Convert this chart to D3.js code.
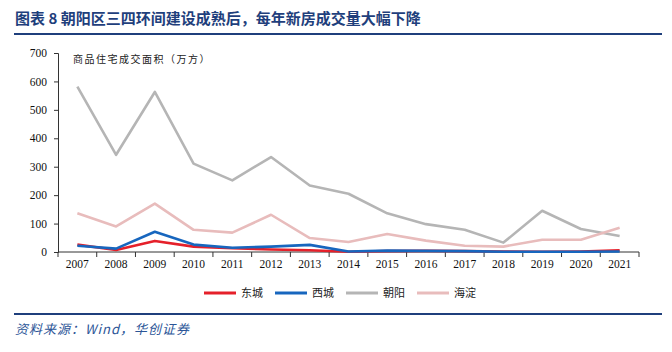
<!DOCTYPE html>
<html>
<head>
<meta charset="utf-8">
<script src="https://cdn.jsdelivr.net/npm/d3@7"></script>
<style>
  body { margin: 0; background: #fff; }
  svg { display: block; }
</style>
</head>
<body>
<div id="chart"></div>
<script>
// data (万方)
const years = ["2007","2008","2009","2010","2011","2012","2013","2014","2015","2016","2017","2018","2019","2020","2021"];
const dongcheng = [26, 7, 39, 19, 13, 9, 6, 1, 3, 4, 3, 2, 1, 2, 6];
const xicheng = [22, 12, 71, 26, 15, 19, 25, 2, 5, 4, 3, 1, 1, 1, 2];
const chaoyang = [582, 342, 563, 311, 252, 334, 234, 205, 136, 98, 78, 33, 145, 81, 56];
const haidian = [136, 90, 170, 78, 68, 131, 49, 35, 63, 40, 22, 19, 43, 43, 85];
const yTicks = [0, 100, 200, 300, 400, 500, 600, 700];

const seriesList = [
    {name: "东城", values: dongcheng, color: "#e5202a"},
    {name: "西城", values: xicheng, color: "#1766be"},
    {name: "朝阳", values: chaoyang, color: "#b5b5b5"},
    {name: "海淀", values: haidian, color: "#e8bcbc"}
];
// draw order: grey & pink underneath
const drawOrder = [2, 3, 0, 1];

const W = 672, H = 352;
const margin = {top: 53, right: 33, bottom: 100, left: 58};
const width = W - margin.left - margin.right;
const height = H - margin.top - margin.bottom;

const svg = d3.select("#chart").append("svg")
    .attr("width", W)
    .attr("height", H);

const serif = "'Liberation Serif', 'Times New Roman', serif";
const cjk = "'Noto Sans CJK SC', sans-serif";
const navy = "#1f3f7c";

// title + rules
svg.append("text")
    .attr("x", 15).attr("y", 24)
    .attr("fill", navy)
    .attr("font-family", cjk)
    .attr("font-weight", "bold")
    .attr("font-size", "15px")
    .text("图表 8  朝阳区三四环间建设成熟后，每年新房成交量大幅下降");

svg.append("line")
    .attr("x1", 14).attr("x2", 662)
    .attr("y1", 34).attr("y2", 34)
    .attr("stroke", navy).attr("stroke-width", 2);

svg.append("line")
    .attr("x1", 14).attr("x2", 662)
    .attr("y1", 314).attr("y2", 314)
    .attr("stroke", navy).attr("stroke-width", 2);

svg.append("text")
    .attr("x", 15).attr("y", 334)
    .attr("fill", "#2b5597")
    .attr("font-family", cjk)
    .attr("font-style", "italic")
    .attr("font-size", "13px")
    .attr("letter-spacing", "1px")
    .text("资料来源：Wind，华创证券");

const g = svg.append("g")
    .attr("transform", `translate(${margin.left},${margin.top})`);

const x = d3.scaleBand().domain(years).range([0, width]);
const y = d3.scaleLinear().domain([0, 700]).range([height, 0]);

// axes
const yAxis = g.append("g")
    .call(d3.axisLeft(y).tickValues(yTicks).tickSize(4).tickFormat(d3.format("d")));
const xAxis = g.append("g")
    .attr("transform", `translate(0,${height})`)
    .call(d3.axisBottom(x).tickSize(0).tickPadding(8));

[yAxis, xAxis].forEach(a => {
    a.select(".domain").attr("stroke", "#333");
    a.selectAll("line").attr("stroke", "#333");
    a.selectAll("text")
        .attr("font-family", serif)
        .attr("font-size", "11.5px")
        .attr("fill", "#111");
});
yAxis.selectAll("text").attr("dx", "-4");
xAxis.select(".domain").attr("d", `M0,0H${width}`);

// band boundary ticks on x axis
g.append("g").selectAll("line")
    .data(years.concat(["end"]))
    .join("line")
    .attr("x1", (d, i) => i * x.step())
    .attr("x2", (d, i) => i * x.step())
    .attr("y1", height).attr("y2", height + 5)
    .attr("stroke", "#333");

// unit label
g.append("text")
    .attr("x", 15).attr("y", 10)
    .attr("font-family", cjk)
    .attr("font-size", "10px")
    .attr("letter-spacing", "1.5px")
    .attr("fill", "#222")
    .text("商品住宅成交面积（万方）");

const line = d3.line()
    .x((d, i) => x(years[i]) + x.bandwidth() / 2)
    .y(d => y(d));

drawOrder.forEach(k => {
    const s = seriesList[k];
    g.append("path")
        .datum(s.values)
        .attr("fill", "none")
        .attr("stroke", s.color)
        .attr("stroke-width", 2.6)
        .attr("stroke-linejoin", "round")
        .attr("d", line);
});

// legend
const legendX = [204, 275, 346, 417];
const legend = svg.append("g");
seriesList.forEach((s, i) => {
    legend.append("line")
        .attr("x1", legendX[i]).attr("x2", legendX[i] + 32)
        .attr("y1", 293).attr("y2", 293)
        .attr("stroke", s.color).attr("stroke-width", 3);
    legend.append("text")
        .attr("x", legendX[i] + 37).attr("y", 297)
        .attr("font-family", cjk)
        .attr("font-size", "11px")
        .attr("fill", "#222")
        .text(s.name);
});
</script>
</body>
</html>
